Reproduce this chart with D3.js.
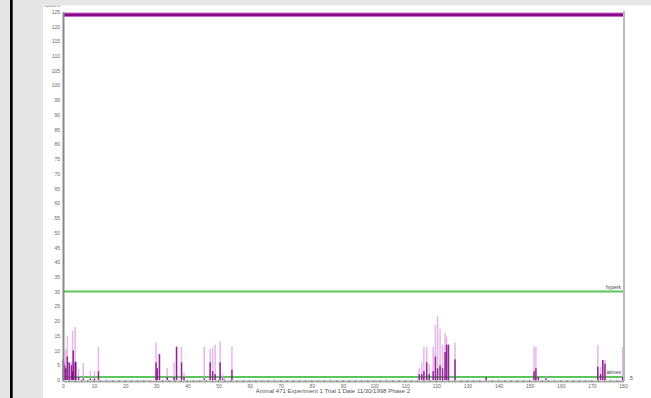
<!DOCTYPE html>
<html><head><meta charset="utf-8">
<script src="https://cdn.jsdelivr.net/npm/d3@7"></script>
<style>body{margin:0;background:#fff}svg{display:block}text{font-family:"Liberation Sans",Arial,sans-serif}</style>
</head><body>
<script>
// time (x) of each bar, light (violet) height and dark (purple) height
const barTimes = [0.1,0.5,0.9,1.4,2.0,2.7,3.1,3.3,3.9,4.1,5.0,6.5,8.8,10.1,11.4,
  29.9,30.3,31.0,33.5,35.7,36.5,38.1,38.9,45.4,47.3,48.1,48.9,50.5,51.3,52.0,54.3,
  114.5,115.3,116.0,116.9,117.7,119.0,119.7,120.4,121.2,122.0,122.8,123.3,123.9,126.0,136.0,
  151.4,152.0,152.8,155.2,171.9,172.8,173.5,174.2,179.9];
const lightCounts = [7,6,10.5,15,6,6,16.7,10,18,6.2,3.8,5.8,3.2,3,11.3,
  12.7,4,8.8,4,6,11.3,11.3,2.5,11.3,10.5,11,12,13,2,1,11.3,
  4,6.2,11.3,11.3,5.5,11.3,18.7,21.7,17.5,11.9,16,14.7,12,12.7,1,
  11.3,11.3,1,1.5,11.9,4.5,6.8,6.8,11.3];
const darkCounts = [7,5,4,8,6,5,3,10,6,6.2,1,0.5,0.5,0.5,3,
  6,4,8.8,1,1,11.3,6,1,0.5,6,3,2,6,0.5,0,3.5,
  2,2,3,6,2,3,8,4,5,4,9.5,12,12,7,1,
  3,4,1,0.5,4.5,2,6.8,5.5,1];
const thresholds = [{label:"hyperk", value:30},{label:"akines", value:1}];
const ceilingValue = 124;
const yTicks = d3.range(0,126,5);
const xTicks = d3.range(0,181,10);
const xTitle = "Animal 471 Experiment 1 Trial 1 Date 11/30/1998 Phase 2";
const yTitle = "Count";

const W=651,H=398;
const svg=d3.select("body").append("svg").attr("width",W).attr("height",H);
const x=d3.scaleLinear().domain([0,180]).range([63,623]);
const y=d3.scaleLinear().domain([0,125]).range([380,11.7]);

svg.append("rect").attr("width",W).attr("height",H).attr("fill","#fff");

svg.append("text").attr("x",52).attr("y",7).attr("text-anchor","middle")
  .attr("font-size",6).attr("fill","#777").text(yTitle);

thresholds.forEach(t=>{
  svg.append("line").attr("x1",x(0)).attr("x2",x(180)).attr("y1",y(t.value)).attr("y2",y(t.value))
    .attr("stroke","#5cc65c").attr("stroke-width",2);
  svg.append("text").attr("x",x(180)-2).attr("y",y(t.value)-3).attr("text-anchor","end")
    .attr("font-size",5).attr("fill","#444").text(t.label);
});

const bars = barTimes.map((t,i)=>({t,l:lightCounts[i],d:darkCounts[i]}));
svg.append("g").selectAll("rect").data(bars).join("rect")
  .attr("x",d=>x(d.t)-0.75).attr("width",1.5).attr("y",d=>y(d.l)).attr("height",d=>y(0)-y(d.l))
  .attr("fill","#d990e2").attr("fill-opacity",0.65);
svg.append("g").selectAll("rect").data(bars).join("rect")
  .attr("x",d=>x(d.t)-0.75).attr("width",1.5).attr("y",d=>y(d.d)).attr("height",d=>y(0)-y(d.d))
  .attr("fill","#800080").attr("fill-opacity",0.8);

svg.append("line").attr("x1",x(0)).attr("x2",x(180)).attr("y1",y(ceilingValue)).attr("y2",y(ceilingValue))
  .attr("stroke","#c070c8").attr("stroke-width",4.5);
svg.append("line").attr("x1",x(0)).attr("x2",x(180)).attr("y1",y(ceilingValue)).attr("y2",y(ceilingValue))
  .attr("stroke","#8a0a8a").attr("stroke-width",2.5);

svg.append("line").attr("x1",624).attr("x2",624).attr("y1",11).attr("y2",381)
  .attr("stroke","#bbb").attr("stroke-width",2);

const ya=svg.append("g").attr("transform","translate(63,0)")
  .call(d3.axisLeft(y).tickValues(yTicks).tickSize(0).tickPadding(3));
ya.select(".domain").attr("stroke","#888").attr("stroke-width",2);
ya.selectAll("text").attr("font-size",5).attr("fill","#666").attr("font-family","Liberation Sans,Arial,sans-serif");

const xa=svg.append("g").attr("transform","translate(0,381)")
  .call(d3.axisBottom(x).tickValues(xTicks).tickSize(0).tickPadding(3));
xa.select(".domain").attr("stroke","#aaa").attr("stroke-width",2);
xa.selectAll("text").attr("font-size",5).attr("fill","#666").attr("font-family","Liberation Sans,Arial,sans-serif");
svg.append("g").selectAll("line").data(d3.range(0,181,2)).join("line")
  .attr("x1",d=>x(d)).attr("x2",d=>x(d)).attr("y1",380).attr("y2",382)
  .attr("stroke","#777").attr("stroke-width",0.8);

svg.append("text").attr("x",630).attr("y",380).attr("font-size",5).attr("fill","#444").text("5");

svg.append("text").attr("x",333).attr("y",393).attr("text-anchor","middle")
  .attr("font-size",6).attr("fill","#555").text(xTitle);

svg.append("rect").attr("x",0).attr("y",0).attr("width",43).attr("height",H).attr("fill","#e6e6e6");
svg.append("rect").attr("x",0).attr("y",0).attr("width",W).attr("height",5.5).attr("fill","#e6e6e6");
svg.append("rect").attr("x",10).attr("y",0).attr("width",2.7).attr("height",H).attr("fill","#000");
</script>
</body></html>
